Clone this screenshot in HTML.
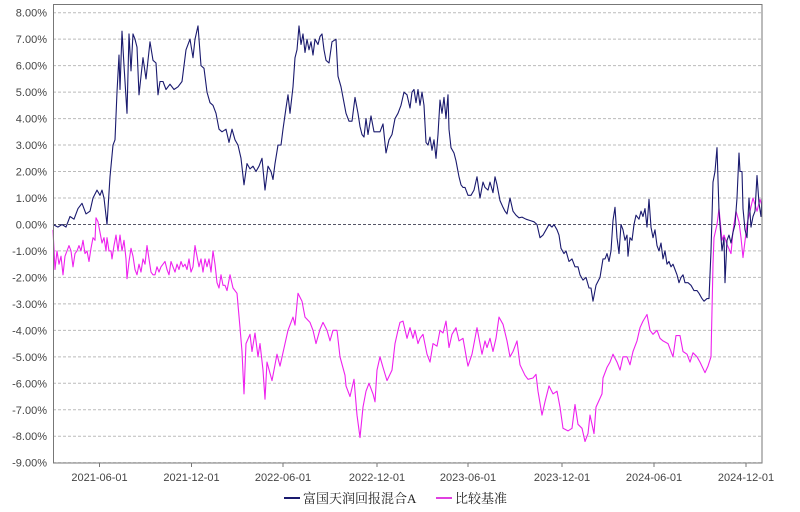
<!DOCTYPE html>
<html><head><meta charset="utf-8"><style>
html,body{margin:0;padding:0;background:#fff;}
svg{display:block;font-family:"Liberation Sans","Noto Sans CJK SC",sans-serif;}
</style></head><body>
<svg id="chart" width="800" height="512" viewBox="0 0 800 512" xmlns="http://www.w3.org/2000/svg">
<g id="grid"></g>
<g id="yaxis"></g>
<g id="xaxis"></g>
<g id="series"></g>
<rect x="53.5" y="4.5" width="708.5" height="458.5" fill="none" stroke="#777" stroke-width="1"/>
<g>
<g>
<line x1="284" y1="498" x2="300" y2="498" stroke="#1a1a6e" stroke-width="2"/>
<text x="303" y="503" font-size="13" fill="#222" font-family="'Liberation Serif','Noto Serif CJK SC',serif">富国天润回报混合A</text>
</g>
<g>
<line x1="436" y1="498" x2="452" y2="498" stroke="#e040e0" stroke-width="2"/>
<text x="455" y="503" font-size="13" fill="#222" font-family="'Liberation Serif','Noto Serif CJK SC',serif">比较基准</text>
</g>
</g>
</svg>
<script>
const yTicks = [8,7,6,5,4,3,2,1,0,-1,-2,-3,-4,-5,-6,-7,-8,-9];
const xTickLabels = ["2021-06-01","2021-12-01","2022-06-01","2022-12-01","2023-06-01","2023-12-01","2024-06-01","2024-12-01"];
const xTickDays = [93,277,460,648,830,1018,1202,1386];
const fundPoints = [[0,0],[10,-0.1],[18,0],[26,-0.1],[34,0.3],[42,0.2],[50,0.6],[58,0.8],[66,0.4],[74,0.5],[80,1.0],[88,1.3],[94,1.1],[98,1.3],[102,1.0],[108,0],[114,1.8],[120,3.0],[124,3.2],[128,5.0],[132,6.4],[134,5.1],[138,7.3],[142,6.0],[148,4.2],[152,7.2],[156,5.8],[160,7.2],[164,7.0],[168,6.7],[172,4.9],[176,5.6],[180,6.3],[186,5.5],[190,6.2],[194,6.9],[200,6.2],[206,6.1],[210,4.9],[214,5.4],[220,5.4],[226,5.1],[234,5.3],[242,5.1],[250,5.2],[258,5.4],[266,6.6],[274,7.0],[280,6.3],[284,7.0],[290,7.5],[296,6.0],[302,5.9],[308,5.0],[314,4.6],[320,4.5],[326,4.2],[332,3.6],[338,3.5],[346,3.6],[352,3.1],[358,3.6],[364,3.2],[370,3.0],[376,2.5],[382,1.5],[388,2.3],[394,2.1],[400,2.2],[406,2.0],[412,2.2],[418,2.5],[424,1.3],[430,2.2],[436,2.0],[440,1.7],[444,2.3],[450,3.0],[456,3.0],[460,3.6],[466,4.4],[470,4.9],[474,4.2],[480,5.2],[484,6.3],[488,6.6],[492,7.5],[496,6.8],[500,7.2],[504,6.5],[508,7.0],[512,6.6],[516,6.9],[520,6.4],[524,7.0],[530,6.8],[534,7.1],[538,7.2],[542,6.6],[546,6.2],[552,6.1],[558,6.9],[566,7.0],[570,5.6],[576,5.2],[580,4.8],[586,4.2],[592,3.9],[598,3.9],[604,4.8],[610,4.2],[614,3.7],[618,3.4],[622,3.3],[626,4.0],[630,3.4],[636,4.1],[642,3.5],[648,3.5],[654,3.5],[660,3.8],[666,2.7],[672,3.2],[678,3.4],[684,4.0],[690,4.2],[696,4.5],[702,5.0],[708,4.9],[714,4.4],[718,5.0],[722,5.1],[726,4.6],[730,5.1],[734,4.5],[738,5.0],[742,4.5],[746,3.1],[750,3.0],[754,3.3],[758,2.8],[762,3.2],[766,2.5],[770,3.4],[774,4.7],[778,4.2],[782,4.8],[786,4.0],[790,4.9],[792,3.6],[796,2.9],[802,2.7],[806,2.4],[812,1.8],[816,1.5],[820,1.4],[824,1.4],[830,1.1],[836,1.1],[842,1.3],[848,1.8],[854,1.0],[860,1.6],[864,1.4],[870,1.3],[874,1.6],[880,1.2],[884,1.8],[888,1.5],[894,0.9],[900,0.65],[904,0.5],[908,0.4],[914,1.0],[920,0.5],[926,0.35],[932,0.25],[938,0.28],[946,0.2],[954,0.15],[962,0.1],[968,0],[974,-0.5],[980,-0.4],[986,-0.2],[992,0],[998,-0.1],[1002,0],[1008,-0.2],[1012,-0.4],[1016,-0.9],[1022,-1.1],[1026,-1.0],[1032,-1.4],[1038,-1.3],[1044,-1.6],[1050,-1.6],[1054,-1.9],[1060,-2.1],[1066,-2.0],[1072,-2.4],[1076,-2.4],[1080,-2.9],[1086,-2.3],[1094,-2.0],[1100,-1.3],[1104,-1.3],[1108,-1.1],[1112,-1.4],[1116,-1.0],[1120,0.15],[1124,0.65],[1128,-0.5],[1132,-1.1],[1136,0],[1140,-0.2],[1144,-0.6],[1148,-0.4],[1150,-1.2],[1154,-0.5],[1158,-0.6],[1162,0],[1166,0.35],[1172,0.2],[1176,0.5],[1180,0.3],[1184,0.6],[1188,-0.1],[1192,0.95],[1196,-0.1],[1200,-0.5],[1204,-0.2],[1208,-0.8],[1212,-1.0],[1216,-0.7],[1220,-1.3],[1224,-1.0],[1228,-1.5],[1232,-1.4],[1236,-1.6],[1240,-1.5],[1244,-1.7],[1248,-1.9],[1252,-2.2],[1256,-2.0],[1260,-1.9],[1264,-2.2],[1270,-2.2],[1276,-2.3],[1282,-2.5],[1288,-2.5],[1292,-2.6],[1298,-2.8],[1302,-2.9],[1308,-2.8],[1312,-2.8],[1316,-1.0],[1320,1.6],[1324,2.0],[1328,2.9],[1332,0.5],[1336,-0.5],[1338,-1.0],[1342,-0.5],[1344,-2.2],[1348,-0.6],[1352,-0.4],[1356,-0.7],[1360,-0.3],[1364,0],[1368,1.0],[1372,2.7],[1374,2.0],[1378,2.0],[1380,0.6],[1384,-0.2],[1388,-0.5],[1392,1.0],[1396,-0.1],[1400,0.3],[1404,0.5],[1408,1.85],[1412,0.8],[1416,0.3],[1418,1.0]];
const benchPoints = [[0,-0.2],[4,-1.7],[8,-1.0],[12,-1.5],[16,-1.2],[20,-1.9],[24,-1.2],[28,-1.0],[32,-0.8],[36,-1.0],[40,-1.6],[44,-1.1],[48,-1.0],[52,-0.8],[56,-1.0],[60,-0.6],[64,-1.1],[68,-1.0],[72,-1.4],[76,-0.9],[80,-0.5],[84,-0.6],[86,0.25],[90,0.1],[94,-0.3],[98,-0.7],[102,-0.5],[106,-1.0],[108,-0.5],[112,-1.0],[116,-1.0],[118,-1.3],[122,-0.8],[126,-0.4],[130,-1.0],[134,-0.4],[138,-1.0],[142,-0.6],[146,-1.3],[148,-2.05],[152,-1.4],[156,-0.9],[160,-1.2],[164,-1.7],[168,-1.9],[172,-1.5],[176,-1.8],[180,-1.3],[184,-1.5],[188,-0.8],[192,-1.3],[196,-1.8],[200,-1.9],[204,-1.9],[208,-1.6],[212,-1.8],[216,-1.6],[220,-1.5],[224,-1.4],[228,-1.7],[232,-1.9],[236,-1.4],[240,-1.6],[244,-1.8],[248,-1.5],[252,-1.7],[256,-1.4],[260,-1.6],[264,-1.5],[268,-1.7],[272,-1.3],[276,-1.8],[280,-1.6],[284,-0.8],[288,-1.2],[292,-1.6],[296,-1.3],[300,-1.8],[304,-1.3],[308,-1.6],[312,-1.3],[316,-1.8],[320,-1.0],[324,-1.5],[328,-2.2],[332,-2.4],[336,-1.9],[340,-2.3],[344,-2.3],[348,-2.5],[354,-1.9],[360,-2.4],[368,-2.6],[374,-3.9],[378,-4.8],[382,-6.4],[386,-4.5],[394,-4.15],[398,-4.8],[404,-4.1],[410,-5.0],[414,-4.5],[420,-5.5],[424,-6.6],[428,-5.2],[438,-5.9],[448,-4.9],[454,-5.35],[464,-4.5],[470,-4.0],[480,-3.5],[484,-3.8],[490,-2.6],[498,-2.9],[504,-3.5],[514,-3.7],[520,-4.0],[526,-4.5],[534,-3.96],[540,-3.7],[548,-4.0],[554,-4.4],[560,-4.0],[568,-4.0],[574,-5.0],[584,-5.7],[586,-6.1],[594,-6.5],[602,-5.85],[608,-7.2],[614,-8.05],[620,-6.9],[626,-6.3],[632,-6.0],[640,-6.4],[644,-6.7],[648,-5.5],[654,-5.0],[660,-5.4],[668,-5.9],[678,-5.5],[684,-4.5],[690,-4.0],[694,-3.7],[700,-3.65],[708,-4.3],[714,-3.9],[720,-4.3],[724,-4.0],[730,-4.5],[734,-4.3],[740,-4.15],[748,-4.9],[754,-5.2],[760,-4.5],[768,-4.6],[774,-4.0],[780,-4.1],[786,-3.65],[792,-4.65],[798,-4.15],[806,-3.9],[812,-4.4],[820,-4.3],[828,-5.16],[830,-5.35],[838,-4.9],[848,-3.9],[858,-4.9],[864,-4.4],[868,-4.65],[874,-4.3],[880,-4.8],[886,-4.3],[892,-3.5],[900,-3.77],[908,-4.4],[914,-5.0],[920,-4.8],[928,-4.4],[934,-5.3],[944,-5.7],[950,-5.85],[960,-5.8],[966,-5.66],[970,-6.3],[978,-7.2],[984,-6.7],[992,-6.1],[1000,-6.4],[1008,-6.3],[1014,-6.9],[1020,-7.7],[1030,-7.8],[1038,-7.7],[1044,-6.8],[1050,-7.55],[1058,-7.7],[1064,-8.2],[1070,-7.9],[1074,-7.2],[1078,-7.55],[1082,-7.9],[1086,-6.9],[1098,-6.4],[1100,-5.8],[1108,-5.4],[1114,-5.2],[1120,-4.9],[1128,-5.2],[1134,-5.5],[1140,-5.0],[1148,-5.0],[1154,-5.3],[1160,-4.8],[1168,-4.4],[1174,-3.9],[1180,-3.65],[1188,-3.4],[1194,-4.0],[1200,-4.15],[1208,-4.0],[1214,-4.3],[1220,-4.4],[1230,-4.5],[1240,-5.0],[1246,-4.2],[1254,-4.2],[1260,-4.8],[1268,-4.9],[1274,-5.2],[1280,-4.85],[1288,-5.0],[1294,-5.2],[1304,-5.6],[1310,-5.35],[1316,-5.0],[1320,-1.5],[1322,-0.5],[1328,0.0],[1332,0.6],[1338,-0.6],[1342,-0.4],[1348,-0.75],[1356,-1.1],[1360,-0.25],[1366,0.5],[1372,0.1],[1376,-0.5],[1380,-1.25],[1388,0],[1394,0.5],[1400,1.0],[1408,0.5],[1414,0.95],[1418,0.7]];

const NS = "http://www.w3.org/2000/svg";
const X0 = 53, X1 = 762, DMAX = 1418;
const Y_TOP = 12.7, Y_BOT = 462.7, VMAX = 8, VMIN = -9;
function xScale(d){ return X0 + (d / DMAX) * (X1 - X0); }
function yScale(v){ return Y_TOP + (VMAX - v) / (VMAX - VMIN) * (Y_BOT - Y_TOP); }
function mk(tag, attrs){ const e = document.createElementNS(NS, tag); for (const k in attrs) e.setAttribute(k, attrs[k]); return e; }

const grid = document.getElementById('grid');
const yaxis = document.getElementById('yaxis');
yTicks.forEach(v => {
  const y = yScale(v);
  const ln = mk('line', {x1: X0, x2: X1, y1: y, y2: y, stroke: v === 0 ? '#556' : '#bbb', 'stroke-width': 1, 'stroke-dasharray': '3,2'});
  
  
  grid.appendChild(ln);
  const t = mk('text', {x: 47, y: y + 4, 'text-anchor': 'end', 'font-size': 11, fill: '#444'});
  t.textContent = v.toFixed(2) + '%';
  
  
  yaxis.appendChild(t);
});
const xaxis = document.getElementById('xaxis');
xTickLabels.forEach((lab, i) => {
  const x = xScale(xTickDays[i]);
  const tk = mk('line', {x1: x, x2: x, y1: 463, y2: 467, stroke: '#777', 'stroke-width': 1});
  
  
  xaxis.appendChild(tk);
  const t = mk('text', {x: x, y: 481, 'text-anchor': 'middle', 'font-size': 11, fill: '#444'});
  t.textContent = lab;
  
  
  xaxis.appendChild(t);
});
const series = document.getElementById('series');
function linePath(pts){ return pts.map((p, i) => (i ? 'L' : 'M') + xScale(p[0]).toFixed(1) + ',' + yScale(p[1]).toFixed(1)).join(''); }
const bp = mk('path', {d: linePath(benchPoints), fill: 'none', stroke: '#ee22ee', 'stroke-width': 1.1, 'stroke-linejoin': 'round'});


series.appendChild(bp);
const fp = mk('path', {d: linePath(fundPoints), fill: 'none', stroke: '#1a1a6e', 'stroke-width': 1.1, 'stroke-linejoin': 'round'});


series.appendChild(fp);
</script>
</body></html>
